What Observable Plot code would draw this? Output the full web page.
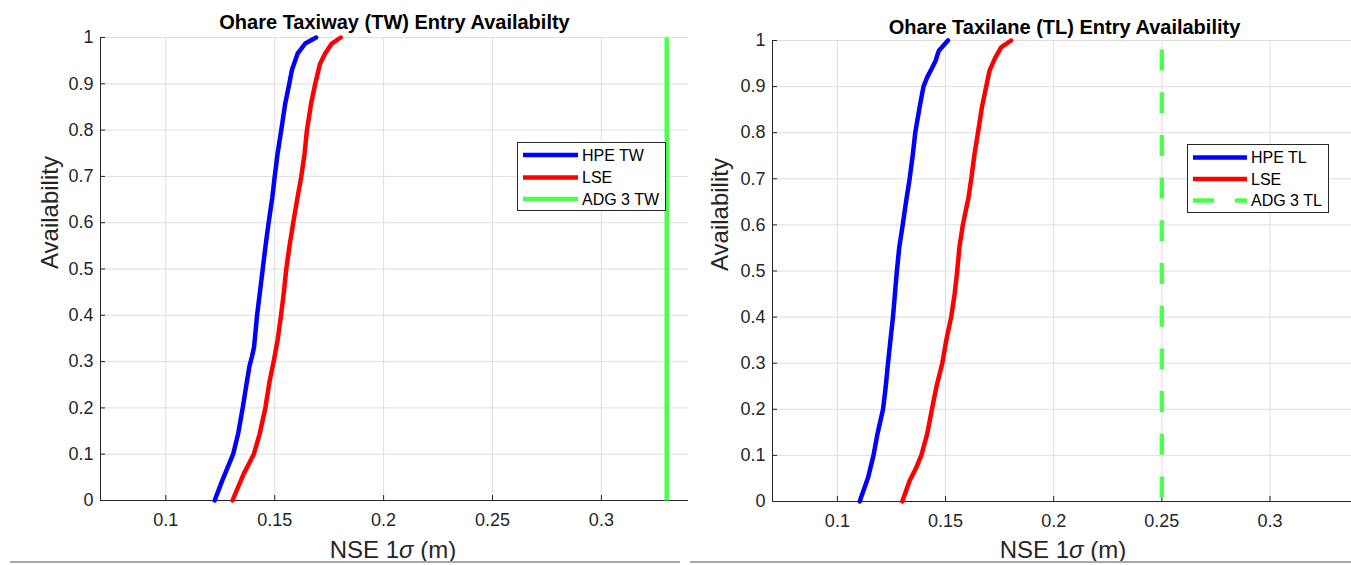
<!DOCTYPE html>
<html>
<head>
<meta charset="utf-8">
<script src="https://cdn.jsdelivr.net/npm/d3@7"></script>
<script src="https://cdn.jsdelivr.net/npm/@observablehq/plot@0.6"></script>
<style>
  body { margin: 0; background: #fff; font-family: "Liberation Sans", Arial, Helvetica, sans-serif; }
  #wrap { position: relative; width: 1351px; height: 565px; overflow: hidden; background: #fff; }
  .panel { position: absolute; top: 0; width: 690px; height: 565px; }
  .panel svg { max-width: none !important; }
  .xlabel { position: absolute; font-size: 24px; color: #262626; transform: translate(-50%, -50%); white-space: nowrap; }
  .legend { position: absolute; border: 1px solid #262626; background: #fff; }
  .legend svg { display: block; }
  .sep { position: absolute; top: 561px; height: 2px; background: #a8a8a8; }
</style>
</head>
<body>
<div id="wrap"></div>
<script>
// ---- Data ----
const xTicks = [0.1, 0.15, 0.2, 0.25, 0.3];
const xTickLabels = ["0.1", "0.15", "0.2", "0.25", "0.3"];
const yTicks = [0, 0.1, 0.2, 0.3, 0.4, 0.5, 0.6, 0.7, 0.8, 0.9, 1];
const yTickLabels = ["0", "0.1", "0.2", "0.3", "0.4", "0.5", "0.6", "0.7", "0.8", "0.9", "1"];
const xDomain = [0.07, 0.34];

// Taxiway (TW)
const twHpeAvail = [0, 0.043, 0.1, 0.144, 0.2, 0.259, 0.29, 0.31, 0.331, 0.4, 0.446, 0.5, 0.547, 0.6, 0.655, 0.7, 0.749, 0.8, 0.857, 0.9, 0.93, 0.965, 0.987, 1];
const twHpeNse   = [0.1224, 0.1259, 0.1309, 0.1332, 0.1353, 0.1373, 0.1384, 0.1395, 0.1405, 0.1419, 0.1431, 0.1445, 0.1457, 0.1472, 0.1489, 0.15, 0.1513, 0.153, 0.1548, 0.1567, 0.1579, 0.1605, 0.164, 0.1690];
const twLseAvail = [0, 0.058, 0.1, 0.144, 0.2, 0.259, 0.3, 0.346, 0.4, 0.446, 0.5, 0.547, 0.6, 0.655, 0.7, 0.749, 0.8, 0.857, 0.9, 0.943, 0.965, 0.987, 1];
const twLseNse   = [0.1306, 0.1358, 0.1404, 0.1431, 0.1457, 0.1477, 0.1495, 0.1513, 0.1529, 0.1541, 0.1553, 0.1567, 0.1585, 0.1605, 0.1622, 0.1637, 0.1648, 0.1667, 0.1686, 0.1708, 0.1731, 0.1762, 0.1803];
const twAdg = 0.33;

// Taxilane (TL)
const tlHpeAvail = [0, 0.052, 0.1, 0.146, 0.2, 0.247, 0.3, 0.349, 0.4, 0.45, 0.5, 0.551, 0.6, 0.652, 0.7, 0.754, 0.8, 0.855, 0.9, 0.92, 0.94, 0.956, 0.978, 1];
const tlHpeNse   = [0.1103, 0.1142, 0.1167, 0.1185, 0.1211, 0.1223, 0.1234, 0.1245, 0.1257, 0.1266, 0.1275, 0.1286, 0.1302, 0.1318, 0.1334, 0.1349, 0.136, 0.138, 0.1398, 0.1415, 0.1437, 0.1454, 0.1469, 0.1511];
const tlLseAvail = [0, 0.045, 0.074, 0.1, 0.146, 0.2, 0.247, 0.3, 0.349, 0.4, 0.45, 0.5, 0.551, 0.6, 0.659, 0.7, 0.754, 0.8, 0.855, 0.9, 0.934, 0.963, 0.985, 1];
const tlLseNse   = [0.13, 0.1334, 0.1365, 0.1388, 0.1415, 0.1437, 0.1457, 0.1485, 0.1503, 0.1526, 0.1542, 0.1554, 0.1564, 0.1580, 0.1606, 0.1619, 0.1634, 0.165, 0.1668, 0.1688, 0.1703, 0.173, 0.1757, 0.1803];
const tlAdg = 0.25;

const BLUE = "#0000ff", RED = "#ff0000", GREEN = "#4dff4d", INK = "#262626";
const FONT = "Liberation Sans, Arial, Helvetica, sans-serif";

function rows(xs, ys) { return xs.map((x, i) => ({x, y: ys[i]})); }

function panel(cfg) {
  const lw = 4.5;
  return Plot.plot({
    width: cfg.width, height: 565,
    marginLeft: cfg.marginLeft, marginRight: cfg.marginRight,
    marginTop: cfg.marginTop, marginBottom: cfg.marginBottom,
    style: {fontFamily: FONT, color: INK, background: "transparent", overflow: "visible", maxWidth: "none"},
    x: {domain: xDomain},
    y: {domain: [0, 1]},
    marks: [
      Plot.gridX(xTicks, {stroke: "#dedede", strokeOpacity: 1, strokeWidth: 1}),
      Plot.gridY(yTicks, {stroke: "#dedede", strokeOpacity: 1, strokeWidth: 1}),
      Plot.ruleY([0], {stroke: INK, strokeWidth: 1}),
      Plot.ruleX([xDomain[0]], {stroke: INK, strokeWidth: 1}),
      Plot.axisX(xTicks, {tickSize: 5, dy: -5, tickFormat: () => "", stroke: INK, label: null}),
      Plot.axisY(yTicks, {tickSize: 5, dx: 5, tickFormat: () => "", stroke: INK, label: null}),
      Plot.axisX(xTicks, {tickSize: 0, tickPadding: 13, fontSize: 18, fill: INK, label: null,
        tickFormat: d => xTickLabels[xTicks.indexOf(d)]}),
      Plot.axisY(yTicks, {tickSize: 0, tickPadding: 7, fontSize: 18, fill: INK, label: null,
        tickFormat: d => yTickLabels[yTicks.indexOf(d)]}),
      Plot.line(rows(cfg.hpeX, cfg.hpeY), {x: "x", y: "y", stroke: BLUE, strokeWidth: lw}),
      Plot.line(rows(cfg.lseX, cfg.lseY), {x: "x", y: "y", stroke: RED, strokeWidth: lw}),
      Plot.line([{x: cfg.adg, y: 1}, {x: cfg.adg, y: 0}], {x: "x", y: "y", stroke: GREEN, strokeWidth: lw,
        strokeLinecap: "butt",
        strokeDasharray: cfg.dashed ? "21,21.7" : null, strokeDashoffset: cfg.dashed ? 33.7 : null}),
      Plot.text([cfg.title], {frameAnchor: "top", lineAnchor: "middle", dy: cfg.titleDy, fontSize: 20, fontWeight: "bold", fill: "#000"}),
      Plot.text(["Availability"], {frameAnchor: "left", dx: cfg.ylabelDx, rotate: -90, fontSize: 24, fill: INK})
    ]
  });
}

function legend(left, top, w, h, items, rowY, swX0, swX1, txX) {
  const div = document.createElement("div");
  div.className = "legend";
  div.style.left = left + "px"; div.style.top = top + "px";
  div.style.width = w + "px"; div.style.height = h + "px";
  const ns = "http://www.w3.org/2000/svg";
  const svg = document.createElementNS(ns, "svg");
  svg.setAttribute("width", w); svg.setAttribute("height", h);
  items.forEach((it, i) => {
    const ln = document.createElementNS(ns, "line");
    ln.setAttribute("x1", swX0); ln.setAttribute("x2", swX1);
    ln.setAttribute("y1", rowY[i]); ln.setAttribute("y2", rowY[i]);
    ln.setAttribute("stroke", it.color); ln.setAttribute("stroke-width", 4.5);
    if (it.dash) ln.setAttribute("stroke-dasharray", it.dash);
    svg.appendChild(ln);
    const tx = document.createElementNS(ns, "text");
    tx.setAttribute("x", txX); tx.setAttribute("y", rowY[i]);
    tx.setAttribute("dy", "0.35em");
    tx.setAttribute("font-size", 16); tx.setAttribute("font-family", FONT);
    tx.setAttribute("fill", "#000");
    tx.textContent = it.label;
    svg.appendChild(tx);
  });
  div.appendChild(svg);
  return div;
}

const wrap = document.getElementById("wrap");

const left = panel({
  width: 690, marginLeft: 100, marginRight: 2, marginTop: 37, marginBottom: 65,
  hpeX: twHpeNse, hpeY: twHpeAvail, lseX: twLseNse, lseY: twLseAvail, adg: twAdg, dashed: false,
  title: "Ohare Taxiway (TW) Entry Availabilty", titleDy: -15, ylabelDx: -50
});
const lp = document.createElement("div"); lp.className = "panel"; lp.style.left = "0px"; lp.appendChild(left);
wrap.appendChild(lp);

const right = panel({
  width: 690, marginLeft: 92, marginRight: 14, marginTop: 40, marginBottom: 64,
  hpeX: tlHpeNse, hpeY: tlHpeAvail, lseX: tlLseNse, lseY: tlLseAvail, adg: tlAdg, dashed: true,
  title: "Ohare Taxilane (TL) Entry Availability", titleDy: -13, ylabelDx: -52
});
const rp = document.createElement("div"); rp.className = "panel"; rp.style.left = "680px"; rp.appendChild(right);
wrap.appendChild(rp);

// x labels
[[393, "NSE 1<i>σ</i> (m)"], [1063, "NSE 1<i>σ</i> (m)"]].forEach(([cx, html]) => {
  const d = document.createElement("div");
  d.className = "xlabel"; d.style.left = cx + "px"; d.style.top = "550px";
  d.innerHTML = html;
  wrap.appendChild(d);
});

// legends
wrap.appendChild(legend(517, 142, 147, 67, [
  {label: "HPE TW", color: BLUE}, {label: "LSE", color: RED}, {label: "ADG 3 TW", color: GREEN}
], [12, 34.5, 56], 5, 60, 64));
wrap.appendChild(legend(1187, 144, 140, 67, [
  {label: "HPE TL", color: BLUE}, {label: "LSE", color: RED}, {label: "ADG 3 TL", color: GREEN, dash: "21,21"}
], [12.5, 34, 55.5], 5, 59, 63));

// figure separators at bottom
const s1 = document.createElement("div"); s1.className = "sep"; s1.style.left = "10px"; s1.style.width = "670px"; wrap.appendChild(s1);
const s2 = document.createElement("div"); s2.className = "sep"; s2.style.left = "690px"; s2.style.width = "661px"; wrap.appendChild(s2);
</script>
</body>
</html>
